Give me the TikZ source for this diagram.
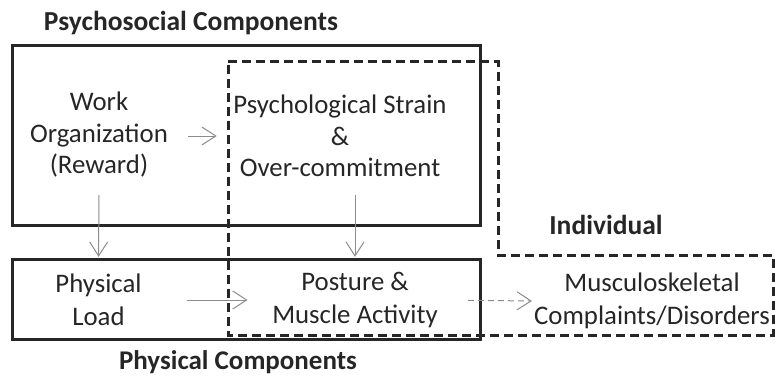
\documentclass[tikz,border=0pt]{standalone}
\usepackage{fontspec}
\setmainfont{Carlito}
\usetikzlibrary{arrows.meta}
\begin{document}
\begin{tikzpicture}[x=1pt,y=-1pt,
 lbl/.style={font=\fontsize{26.8}{31.5}\selectfont, align=center, inner sep=0pt, text=black!85, minimum height=100pt},
 lblb/.style={font=\fontsize{26.8}{33}\selectfont, align=center, inner sep=0pt, text=black!85, minimum height=64pt},
 ttl/.style={font=\bfseries\fontsize{27.5}{30}\selectfont, inner sep=0pt, text=black!85},
 box/.style={line width=3pt, draw=black!85},
 dbox/.style={line width=3pt, draw=black!85, dash pattern=on 9pt off 5pt},
 arr/.style={draw=black!45, line width=1pt, -{Straight Barb[length=14pt,width=18pt]}},
]
\useasboundingbox (0,0) rectangle (775,377);
\draw[box] (12,46) rectangle (480,225);
\draw[box] (12,259) rectangle (480,339);
\draw[dbox] (228,62) -- (498,62) -- (498,255) -- (773,255) -- (773,335) -- (228,335) -- cycle;

\node[ttl] (tpsy) at (191,23) {Psychosocial Components};
\node[ttl] (tind) at (606,225) {Individual};
\node[ttl, anchor=base, font=\bfseries\fontsize{27}{30}\selectfont] (tphy) at (238,369.5) {Physical Components};

\node[lbl] (work) at (99,135) {Work\\Organization\\(Reward)};
\node[lbl] (psych) at (340,136) {Psychological Strain\\\&\\Over-commitment};
\node[lblb] (phys) at (98.5,300) {Physical\\Load};
\node[lblb] (post) at (355,300) {Posture \&\\Muscle Activity};
\node[lblb] (msd) at (652,301) {Musculoskeletal\\Complaints/Disorders};

\draw[arr, shorten <=20pt, shorten >=16.5pt] (work.east |- psych) -- (psych.west);
\draw[arr, shorten <=10pt, shorten >=11pt] (work.south) -- (phys.north);
\draw[arr, shorten <=9pt, shorten >=11pt] (psych.south -| post.north) -- (post.north);
\draw[arr, shorten <=45pt, shorten >=24.5pt] (phys.east) -- (post.west);
\draw[arr, dash pattern=on 6pt off 4pt, shorten <=30pt, shorten >=2pt] (post.east) -- (msd.west);
\end{tikzpicture}
\end{document}
